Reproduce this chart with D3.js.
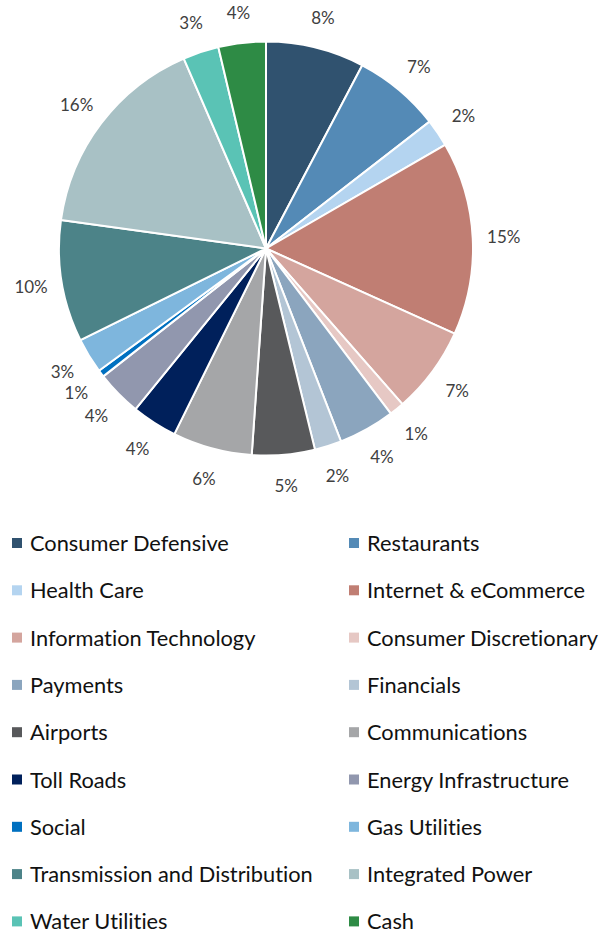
<!DOCTYPE html>
<html>
<head>
<meta charset="utf-8">
<script src="https://cdn.jsdelivr.net/npm/d3@7"></script>
<style>
  body { margin: 0; background: #fff; }
  svg { display: block; }
  text { font-variant-ligatures: none; }
</style>
</head>
<body>
<svg id="chart"></svg>
<script>
var sectors = ["Consumer Defensive", "Restaurants", "Health Care", "Internet & eCommerce",
    "Information Technology", "Consumer Discretionary", "Payments", "Financials",
    "Airports", "Communications", "Toll Roads", "Energy Infrastructure",
    "Social", "Gas Utilities", "Transmission and Distribution", "Integrated Power",
    "Water Utilities", "Cash"]
var weights = [7.7, 6.8, 2.15, 15.1, 6.8, 1.15, 4.4, 2.1, 4.9, 6.2, 3.55, 3.55,
    0.55, 2.75, 9.5, 16.3, 2.8, 3.7]
var colors = ["#30526F", "#548AB6", "#B4D4F0", "#C07E73", "#D4A59E", "#E6C8C4",
    "#8BA5BE", "#B3C5D5", "#58595B", "#A5A6A8", "#00205B", "#9197AE",
    "#0070C0", "#7EB6DD", "#4C8388", "#A8C1C5", "#5AC3B5", "#2E8B45"]

var dimensions = {
    width: 602,
    height: 931,
    cx: 266,
    cy: 248.5,
    radius: 207,
    labelRadius: 238
}

var svg = d3.select("#chart")
    .attr("width", dimensions.width)
    .attr("height", dimensions.height)

var dataset = sectors.map(function (s, i) {
    return { sector: s, value: weights[i], color: colors[i] }
})
var total = d3.sum(dataset, d => d.value)

var pie = d3.pie()
    .value(d => d.value)
    .sort(null)

var arc = d3.arc()
    .innerRadius(0)
    .outerRadius(dimensions.radius)

var labelArc = d3.arc()
    .innerRadius(dimensions.labelRadius)
    .outerRadius(dimensions.labelRadius)

var g = svg.append("g")
    .attr("transform", "translate(" + dimensions.cx + "," + dimensions.cy + ")")

var arcs = pie(dataset)

g.selectAll("path")
    .data(arcs)
    .enter()
    .append("path")
    .attr("d", arc)
    .attr("fill", d => d.data.color)
    .attr("stroke", "#fff")
    .attr("stroke-width", 2)
    .attr("stroke-linejoin", "round")

g.selectAll("text")
    .data(arcs)
    .enter()
    .append("text")
    .attr("transform", d => "translate(" + labelArc.centroid(d) + ")")
    .attr("text-anchor", "middle")
    .attr("dominant-baseline", "central")
    .attr("font-family", "Lato, 'Open Sans', sans-serif")
    .attr("font-size", "17px")
    .attr("fill", "#404040")
    .text(d => Math.round(d.data.value / total * 100) + "%")

// legend, two columns
var legend = {
    top: 543,
    step: 47.3,
    cols: [12, 349],
    box: 10,
    gap: 8
}

var items = svg.append("g")
    .selectAll("g")
    .data(dataset)
    .enter()
    .append("g")
    .attr("transform", function (d, i) {
        var x = legend.cols[i % 2]
        var y = legend.top + Math.floor(i / 2) * legend.step
        return "translate(" + x + "," + y + ")"
    })

items.append("rect")
    .attr("x", 0)
    .attr("y", -legend.box / 2)
    .attr("width", legend.box)
    .attr("height", legend.box)
    .attr("fill", d => d.color)

items.append("text")
    .attr("x", legend.box + legend.gap)
    .attr("y", -0.5)
    .attr("dominant-baseline", "central")
    .attr("font-family", "Lato, 'Open Sans', sans-serif")
    .attr("font-size", "21.8px")
    .attr("fill", "#111")
    .text(d => d.sector)
</script>
</body>
</html>
